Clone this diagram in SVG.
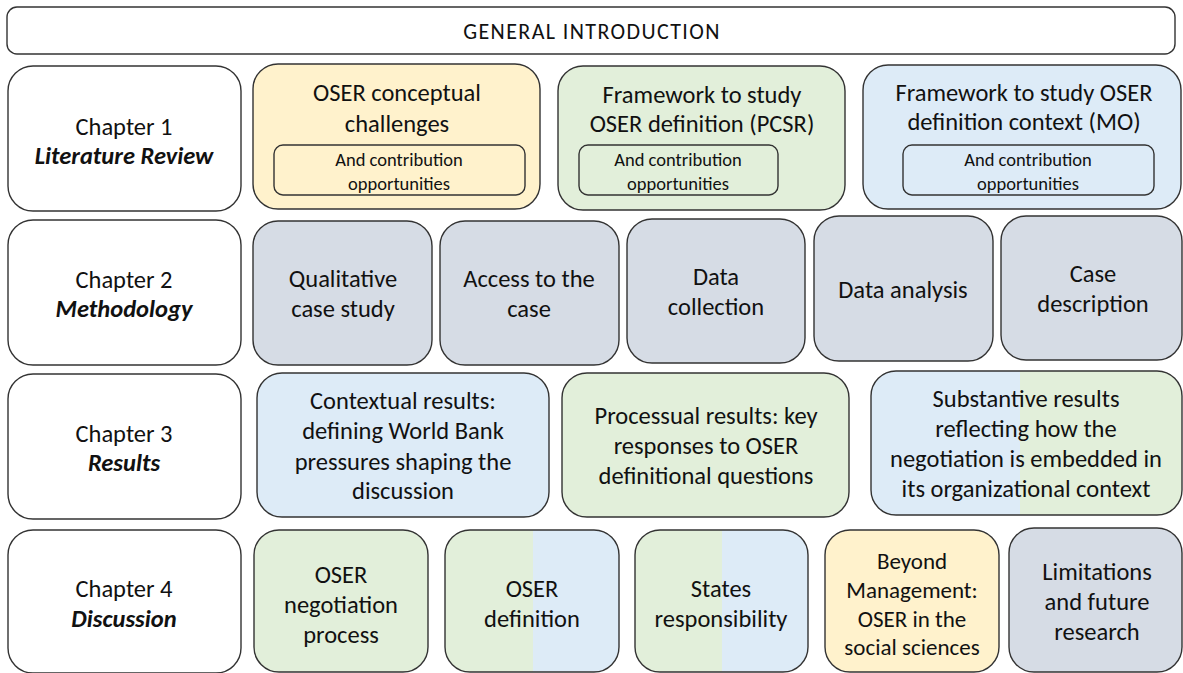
<svg xmlns="http://www.w3.org/2000/svg" width="1183" height="673" viewBox="0 0 1183 673">
<style>
.b{stroke:#333333;stroke-width:1.4}
.w{fill:#ffffff}.y{fill:#fff2cc}.g{fill:#e2efda}.bl{fill:#ddebf7}.gr{fill:#d6dce5}
text{font-family:Carlito,Calibri,Lato,"Open Sans",sans-serif;fill:#111;text-anchor:middle}
.t{font-size:24.5px}.s{font-size:18.5px}.m{font-size:23px}
.h{font-size:22px;letter-spacing:1.4px}
.bi{font-weight:bold;font-style:italic}
</style>
<defs>
<linearGradient id="gb1" x1="0" y1="0" x2="1" y2="0"><stop offset="0.506" stop-color="#e2efda"/><stop offset="0.506" stop-color="#ddebf7"/></linearGradient>
<linearGradient id="gb2" x1="0" y1="0" x2="1" y2="0"><stop offset="0.50" stop-color="#e2efda"/><stop offset="0.50" stop-color="#ddebf7"/></linearGradient>
<linearGradient id="bg3" x1="0" y1="0" x2="1" y2="0"><stop offset="0.48" stop-color="#ddebf7"/><stop offset="0.48" stop-color="#e2efda"/></linearGradient>
</defs>
<g id="intro"><rect class="b w" x="7" y="7" width="1168" height="47" rx="10"/><text class="h" x="592" y="39">GENERAL INTRODUCTION</text></g>

<g id="ch1"><rect class="b w" x="8" y="66" width="233" height="145" rx="25"/><text class="t" x="124" y="135">Chapter 1</text><text class="t bi" x="124" y="164">Literature Review</text></g>
<g id="c1a"><rect class="b y" x="253" y="64" width="287" height="145" rx="25"/><text class="t" x="397" y="101">OSER conceptual</text><text class="t" x="397" y="132">challenges</text>
<rect class="b y" x="274" y="145" width="251" height="50" rx="9"/><text class="s" x="399" y="166">And contribution</text><text class="s" x="399" y="190">opportunities</text></g>
<g id="c1b"><rect class="b g" x="558" y="66" width="287" height="144" rx="25"/><text class="t" x="702" y="103">Framework to study</text><text class="t" x="702" y="132">OSER definition (PCSR)</text>
<rect class="b g" x="579" y="145" width="199" height="50" rx="9"/><text class="s" x="678" y="166">And contribution</text><text class="s" x="678" y="190">opportunities</text></g>
<g id="c1c"><rect class="b bl" x="863" y="65" width="318" height="144" rx="25"/><text class="t" x="1024" y="101">Framework to study OSER</text><text class="t" x="1024" y="130">definition context (MO)</text>
<rect class="b bl" x="903" y="145" width="251" height="50" rx="9"/><text class="s" x="1028" y="166">And contribution</text><text class="s" x="1028" y="190">opportunities</text></g>

<g id="ch2"><rect class="b w" x="8" y="220" width="233" height="145" rx="25"/><text class="t" x="124" y="288">Chapter 2</text><text class="t bi" x="124" y="317">Methodology</text></g>
<g id="c2a"><rect class="b gr" x="253" y="221" width="179" height="144" rx="25"/><text class="t" x="343" y="287">Qualitative</text><text class="t" x="343" y="317">case study</text></g>
<g id="c2b"><rect class="b gr" x="440" y="221" width="179" height="144" rx="25"/><text class="t" x="529" y="287">Access to the</text><text class="t" x="529" y="317">case</text></g>
<g id="c2c"><rect class="b gr" x="627" y="219" width="178" height="144" rx="25"/><text class="t" x="716" y="285">Data</text><text class="t" x="716" y="315">collection</text></g>
<g id="c2d"><rect class="b gr" x="814" y="216" width="179" height="145" rx="25"/><text class="t" x="903" y="298">Data analysis</text></g>
<g id="c2e"><rect class="b gr" x="1001" y="216" width="181" height="144" rx="25"/><text class="t" x="1093" y="282">Case</text><text class="t" x="1093" y="312">description</text></g>

<g id="ch3"><rect class="b w" x="8" y="374" width="233" height="145" rx="25"/><text class="t" x="124" y="442">Chapter 3</text><text class="t bi" x="124" y="471">Results</text></g>
<g id="c3a"><rect class="b bl" x="257" y="373" width="292" height="144" rx="25"/><text class="t" x="403" y="409">Contextual results:</text><text class="t" x="403" y="439">defining World Bank</text><text class="t" x="403" y="470">pressures shaping the</text><text class="t" x="403" y="499">discussion</text></g>
<g id="c3b"><rect class="b g" x="562" y="373" width="287" height="144" rx="25"/><text class="t" x="706" y="424">Processual results: key</text><text class="t" x="706" y="454">responses to OSER</text><text class="t" x="706" y="484">definitional questions</text></g>
<g id="c3c"><rect class="b" fill="url(#bg3)" x="871" y="371" width="311" height="144" rx="25"/><text class="t" x="1026" y="407">Substantive results</text><text class="t" x="1026" y="437">reflecting how the</text><text class="t" x="1026" y="467">negotiation is embedded in</text><text class="t" x="1026" y="497">its organizational context</text></g>

<g id="ch4"><rect class="b w" x="8" y="530" width="233" height="143" rx="25"/><text class="t" x="124" y="597">Chapter 4</text><text class="t bi" x="124" y="627">Discussion</text></g>
<g id="c4a"><rect class="b g" x="254" y="530" width="174" height="142" rx="25"/><text class="t" x="341" y="583">OSER</text><text class="t" x="341" y="613">negotiation</text><text class="t" x="341" y="643">process</text></g>
<g id="c4b"><rect class="b" fill="url(#gb1)" x="445" y="530" width="174" height="142" rx="25"/><text class="t" x="532" y="597">OSER</text><text class="t" x="532" y="627">definition</text></g>
<g id="c4c"><rect class="b" fill="url(#gb2)" x="635" y="530" width="173" height="142" rx="25"/><text class="t" x="721" y="597">States</text><text class="t" x="721" y="627">responsibility</text></g>
<g id="c4d"><rect class="b y" x="825" y="530" width="174" height="142" rx="25"/><text class="m" x="912" y="569">Beyond</text><text class="m" x="912" y="598">Management:</text><text class="m" x="912" y="627">OSER in the</text><text class="m" x="912" y="655">social sciences</text></g>
<g id="c4e"><rect class="b gr" x="1009" y="528" width="173" height="144" rx="25"/><text class="t" x="1097" y="580">Limitations</text><text class="t" x="1097" y="610">and future</text><text class="t" x="1097" y="640">research</text></g>
</svg>
